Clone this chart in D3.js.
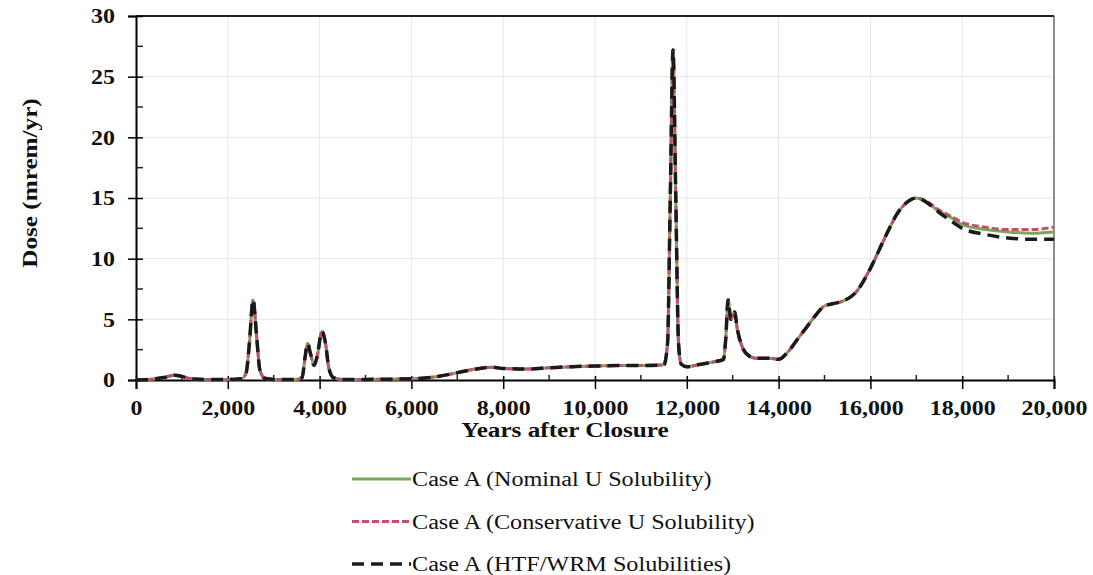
<!DOCTYPE html>
<html>
<head>
<meta charset="utf-8">
<script src="https://cdn.jsdelivr.net/npm/d3@7"></script>
<style>
  body { margin: 0; background: #fff; }
  text { font-family: "Liberation Serif", "Times New Roman", serif; fill: #111; }
</style>
</head>
<body>
<div id="root"></div>
<script>
// years after closure
const years = [0, 300, 600, 850, 1000, 1200, 1500, 2000, 2300, 2400, 2470, 2550, 2630, 2700, 2800, 3000,
  3500, 3620, 3680, 3740, 3800, 3880, 3950, 4050, 4130, 4200, 4300, 4500, 5000, 6000, 6500, 7000,
  7400, 7750, 8000, 8500, 9000, 9500, 10000, 10500, 11000, 11500, 11580, 11640, 11700, 11760, 11820, 11880,
  12000, 12300, 12600, 12800, 12850, 12900, 12960, 13040, 13100, 13200, 13350, 13500, 13800, 14000, 14200, 14400,
  14600, 14800, 15000, 15200, 15400, 15700, 16000, 16300, 16600, 16850, 17000, 17200, 17500, 17800, 18000, 18500,
  19000, 19500, 20000]

const nominal = [0, 0.05, 0.2, 0.4, 0.3, 0.1, 0.05, 0.05, 0.1, 0.6, 3.0, 6.6, 3.5, 0.8, 0.15, 0.05,
  0.05, 0.2, 1.8, 3.0, 2.2, 1.2, 2.0, 4.0, 3.0, 1.0, 0.2, 0.05, 0.05, 0.1, 0.25, 0.6,
  0.9, 1.05, 0.95, 0.9, 1.0, 1.1, 1.15, 1.2, 1.2, 1.25, 3.0, 15, 27.2, 15, 3.0, 1.3,
  1.1, 1.3, 1.5, 1.7, 3.5, 6.6, 5.0, 5.6, 4.2, 2.8, 2.0, 1.8, 1.8, 1.7, 2.3, 3.3,
  4.3, 5.3, 6.1, 6.3, 6.5, 7.3, 9.2, 11.6, 13.8, 14.8, 15.0, 14.7, 13.9, 13.3, 12.8, 12.4,
  12.2, 12.1, 12.2]

const conservative = [0, 0.05, 0.2, 0.4, 0.3, 0.1, 0.05, 0.05, 0.1, 0.6, 3.0, 6.6, 3.5, 0.8, 0.15, 0.05,
  0.05, 0.2, 1.8, 3.0, 2.2, 1.2, 2.0, 4.0, 3.0, 1.0, 0.2, 0.05, 0.05, 0.1, 0.25, 0.6,
  0.9, 1.05, 0.95, 0.9, 1.0, 1.1, 1.15, 1.2, 1.2, 1.25, 3.0, 15, 27.2, 15, 3.0, 1.3,
  1.1, 1.3, 1.5, 1.7, 3.5, 6.6, 5.0, 5.6, 4.2, 2.8, 2.0, 1.8, 1.8, 1.7, 2.3, 3.3,
  4.3, 5.3, 6.1, 6.3, 6.5, 7.3, 9.2, 11.6, 13.8, 14.8, 15.0, 14.8, 14.0, 13.4, 13.0, 12.6,
  12.4, 12.4, 12.6]

const htfWrm = [0, 0.05, 0.2, 0.4, 0.3, 0.1, 0.05, 0.05, 0.1, 0.6, 3.0, 6.6, 3.5, 0.8, 0.15, 0.05,
  0.05, 0.2, 1.8, 3.0, 2.2, 1.2, 2.0, 4.0, 3.0, 1.0, 0.2, 0.05, 0.05, 0.1, 0.25, 0.6,
  0.9, 1.05, 0.95, 0.9, 1.0, 1.1, 1.15, 1.2, 1.2, 1.25, 3.0, 15, 27.2, 15, 3.0, 1.3,
  1.1, 1.3, 1.5, 1.7, 3.5, 6.6, 5.0, 5.6, 4.2, 2.8, 2.0, 1.8, 1.8, 1.7, 2.3, 3.3,
  4.3, 5.3, 6.1, 6.3, 6.5, 7.3, 9.2, 11.6, 13.8, 14.8, 15.0, 14.7, 13.8, 13.0, 12.5, 12.0,
  11.7, 11.6, 11.6]

const seriesNames = ["Case A (Nominal U Solubility)", "Case A (Conservative U Solubility)", "Case A (HTF/WRM Solubilities)"]
const xTicks = [0, 2000, 4000, 6000, 8000, 10000, 12000, 14000, 16000, 18000, 20000]
const yTicks = [0, 5, 10, 15, 20, 25, 30]

const w = 1093
const h = 575
const plotLeft = 136, plotRight = 1054, plotTop = 16, plotBottom = 380
// the scanned original is a little stretched sideways
const stretch = 1.2
const tickStretch = 1.14

const svg = d3.select("#root")
    .append("svg")
    .attr("width", w)
    .attr("height", h)
    .style("background", "#fff")

const x = d3.scaleLinear().domain([0, 20000]).range([plotLeft, plotRight])
const y = d3.scaleLinear().domain([0, 30]).range([plotBottom, plotTop])

// grid
svg.append("g").selectAll("line.vg")
    .data(xTicks.slice(1, -1))
    .enter().append("line")
    .attr("x1", d => x(d)).attr("x2", d => x(d))
    .attr("y1", plotTop).attr("y2", plotBottom)
    .attr("stroke", "#e6e6e6").attr("stroke-width", 1)
svg.append("g").selectAll("line.hg")
    .data(yTicks.slice(1, -1))
    .enter().append("line")
    .attr("x1", plotLeft).attr("x2", plotRight)
    .attr("y1", d => y(d)).attr("y2", d => y(d))
    .attr("stroke", "#e6e6e6").attr("stroke-width", 1)

// frame
svg.append("line")
    .attr("x1", plotLeft).attr("x2", plotRight)
    .attr("y1", plotTop).attr("y2", plotTop)
    .attr("stroke", "#222").attr("stroke-width", 2)
svg.append("line")
    .attr("x1", plotRight).attr("x2", plotRight)
    .attr("y1", plotTop).attr("y2", plotBottom)
    .attr("stroke", "#444").attr("stroke-width", 1.2)

// axes
const xAxis = svg.append("g")
    .attr("transform", `translate(0, ${plotBottom})`)
    .call(d3.axisBottom(x).tickValues(xTicks).tickFormat(d3.format(",")).tickSize(9).tickPadding(11))
xAxis.select(".domain").attr("stroke-width", 2)
xAxis.selectAll(".tick line").attr("y1", -4).attr("stroke-width", 1.5)
xAxis.selectAll("text")
    .attr("font-size", 21).attr("font-weight", "bold").attr("fill", "#111")
    .attr("transform", `scale(${tickStretch},1)`)

svg.append("g").selectAll("line.xm")
    .data(d3.range(1000, 20000, 2000))
    .enter().append("line")
    .attr("x1", d => x(d)).attr("x2", d => x(d))
    .attr("y1", plotBottom).attr("y2", plotBottom - 5)
    .attr("stroke", "#222").attr("stroke-width", 1.5)

const yAxis = svg.append("g")
    .attr("transform", `translate(${plotLeft}, 0)`)
    .call(d3.axisLeft(y).tickValues(yTicks).tickSize(8).tickPadding(12))
yAxis.select(".domain").attr("stroke-width", 2)
yAxis.selectAll(".tick line").attr("x1", 7).attr("stroke-width", 1.5)
yAxis.selectAll("text")
    .attr("font-size", 21).attr("font-weight", "bold").attr("fill", "#111")
    .attr("x", -21 / tickStretch)
    .attr("transform", `scale(${tickStretch},1)`)

svg.append("g").selectAll("line.ym")
    .data(d3.range(2.5, 30, 5))
    .enter().append("line")
    .attr("x1", plotLeft).attr("x2", plotLeft + 7)
    .attr("y1", d => y(d)).attr("y2", d => y(d))
    .attr("stroke", "#222").attr("stroke-width", 1.5)

// titles
svg.append("text")
    .attr("transform", `translate(565, 437) scale(${stretch},1)`)
    .attr("text-anchor", "middle")
    .attr("font-size", 21).attr("font-weight", "bold")
    .text("Years after Closure")

svg.append("text")
    .attr("transform", `translate(37, 183) rotate(-90) scale(${stretch},1)`)
    .attr("text-anchor", "middle")
    .attr("font-size", 21).attr("font-weight", "bold")
    .text("Dose (mrem/yr)")

// lines
const styles = [
    { data: nominal, color: "#77a957", width: 3, dash: null },
    { data: conservative, color: "#c0506b", width: 3, dash: "7,3" },
    { data: htfWrm, color: "#1a1a1a", width: 3.5, dash: "12,7" }
]

const line = d3.line()
    .x((d, i) => x(years[i]))
    .y(d => y(d))
    .curve(d3.curveMonotoneX)

svg.append("g").selectAll("path.series")
    .data(styles)
    .enter().append("path")
    .attr("d", d => line(d.data))
    .attr("fill", "none")
    .attr("stroke", d => d.color)
    .attr("stroke-width", d => d.width)
    .attr("stroke-dasharray", d => d.dash)
    .attr("stroke-linejoin", "round")

// legend
const legend = svg.append("g").selectAll("g.leg")
    .data(styles)
    .enter().append("g")
    .attr("transform", (d, i) => `translate(352, ${479 + i * 42.5})`)

legend.append("line")
    .attr("x1", 0).attr("x2", 59)
    .attr("stroke", d => d.color)
    .attr("stroke-width", d => d.width)
    .attr("stroke-dasharray", d => d.dash)

legend.append("text")
    .attr("transform", `translate(60, 7) scale(1.21,1)`)
    .attr("font-size", 20)
    .text((d, i) => seriesNames[i])
</script>
</body>
</html>
